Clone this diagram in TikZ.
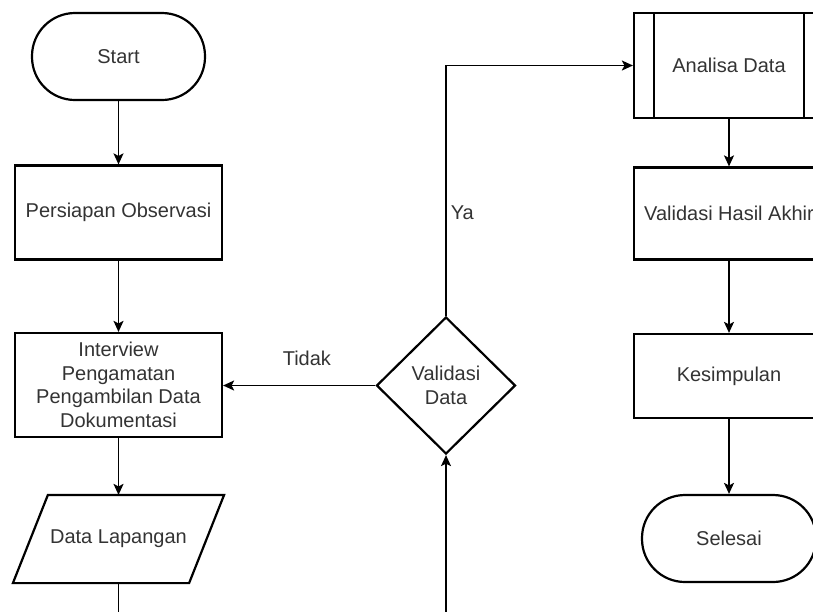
\documentclass[tikz,border=0pt]{standalone}
\usepackage{fontspec}
\setmainfont{Liberation Sans}
\usepackage{xcolor}
\usetikzlibrary{shapes.geometric, arrows.meta, positioning}
\definecolor{txtgray}{HTML}{333333}

\begin{document}
\begin{tikzpicture}[x=1pt, y=-1pt,
        base/.style={draw, line width=2.2pt, align=center, text=txtgray, font=\fontsize{20}{23.5}\selectfont, inner sep=2pt},
        box/.style={base, rectangle},
        term/.style={base, rectangle, rounded corners=43pt},
        io/.style={base, rectangle, draw=none},
        dec/.style={base, diamond, inner sep=0pt},
        predef/.style={box, path picture={
            \draw[line width=2.2pt] ([xshift=20pt]path picture bounding box.north west) -- ([xshift=20pt]path picture bounding box.south west);
            \draw[line width=2.2pt] ([xshift=-20pt]path picture bounding box.north east) -- ([xshift=-20pt]path picture bounding box.south east);}},
        lbl/.style={text=txtgray, font=\fontsize{20}{23.5}\selectfont, inner sep=2pt},
        arrow/.style={-{Stealth[length=11pt, width=10pt, inset=2.5pt]}, line width=1.5pt},
        line/.style={line width=1.5pt}
    ]
        \useasboundingbox (0,0) rectangle (813,611);
        \clip (0,0) rectangle (813,611);
        % left column
        \node[term, minimum width=173pt, minimum height=87pt] (start) at (118.5,56.5) {Start};
        \node[box, minimum width=207pt, minimum height=94pt] (prep) at (118.5,212.5) {Persiapan Observasi};
        \node[box, minimum width=207pt, minimum height=104pt] (intv) at (118.5,385) {Interview\\Pengamatan\\Pengambilan Data\\Dokumentasi};
        \node[io, minimum width=174pt, minimum height=86pt] (lap) at (118.5,539) {Data Lapangan};
        \draw[line width=2.2pt, line join=miter] ([xshift=17.5pt]lap.north west) -- ([xshift=17.5pt]lap.north east)
            -- ([xshift=-17.5pt]lap.south east) -- ([xshift=-17.5pt]lap.south west) -- cycle;
        % decision
        \node[dec, minimum width=139pt, minimum height=137pt] (valid) at (446,385.5) {Validasi\\Data};
        % right column
        \node[predef, minimum width=190pt, minimum height=105pt] (ana) at (729,65.5) {Analisa Data};
        \node[box, minimum width=190pt, minimum height=92pt] (hasil) at (729,213.5) {Validasi Hasil Akhir};
        \node[box, minimum width=190pt, minimum height=84pt] (kes) at (729,376) {Kesimpulan};
        \node[term, minimum width=174pt, minimum height=87pt] (end) at (729,538.5) {Selesai};
        % loose ends below the frame
        \coordinate (outL) at (118.5,625);
        \coordinate (outR) at (446,625);

        \draw[arrow] (start) -- (prep);
        \draw[arrow] (prep) -- (intv);
        \draw[arrow] (intv) -- (lap);
        \draw[line] (lap.south) -- (lap.south |- outL);
        \draw[arrow] (outR) -- (valid.south);
        \draw[arrow] (valid.west) -- node[lbl, pos=0.45, above=17pt] {Tidak} (valid.west -| intv.east);
        \draw[arrow] (valid.north) |- node[lbl, pos=0.206, right=2pt] {Ya} (ana.west);
        \draw[arrow] (ana) -- (hasil);
        \draw[arrow] (hasil) -- (kes);
        \draw[arrow] (kes) -- (end);
    \end{tikzpicture}
\end{document}
